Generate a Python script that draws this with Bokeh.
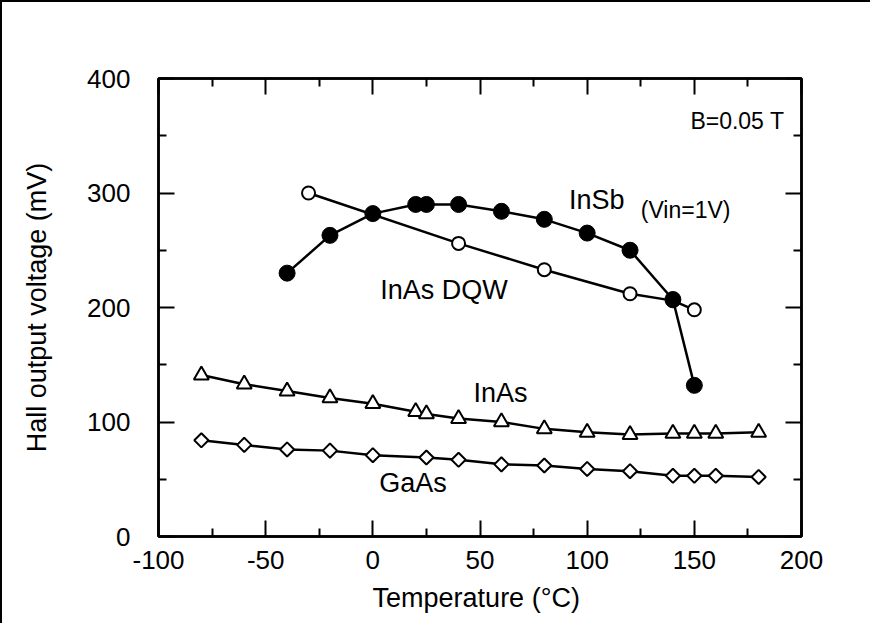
from bokeh.plotting import figure
from bokeh.models import LinearAxis, FixedTicker, Range1d
from bokeh.core.properties import value
from bokeh.embed import file_html
from bokeh.resources import INLINE
import numpy as np

# ---- data ----
insb_t = [-40, -20, 0, 20, 25, 40, 60, 80, 100, 120, 140, 150]
insb_v = [230, 263, 282, 290, 290, 290, 284, 277, 265, 250, 207, 132]

dqw_t = [-30, 40, 80, 120, 140, 150]
dqw_v = [300, 256, 233, 212, 206, 198]

inas_t = [-80, -60, -40, -20, 0, 20, 25, 40, 60, 80, 100, 120, 140, 150, 160, 180]
inas_v = [141, 133, 127, 121, 116, 109, 107, 103, 100, 94, 91, 89, 90, 90, 90, 91]

gaas_t = [-80, -60, -40, -20, 0, 25, 40, 60, 80, 100, 120, 140, 150, 160, 180]
gaas_v = [84, 80, 76, 75, 71, 69, 67, 63, 62, 59, 57, 53, 53, 53, 52]

x_ticks = [-100, -50, 0, 50, 100, 150, 200]
x_tick_labels = ["-100", "-50", "0", "50", "100", "150", "200"]
x_minor = [-75, -25, 25, 75, 125, 175]
y_ticks = [0, 100, 200, 300, 400]
y_tick_labels = ["0", "100", "200", "300", "400"]
y_minor = [50, 150, 250, 350]

FONT = "Liberation Sans"

p = figure(width=870, height=623, output_backend="svg", toolbar_location=None,
           x_range=Range1d(-100, 200), y_range=Range1d(0, 400),
           min_border_left=156, min_border_right=71, min_border_top=76, min_border_bottom=89,
           x_axis_label="Temperature  (\u00b0C)", y_axis_label="Hall output voltage (mV)")
p.styles = {"border-top": "2px solid black", "border-left": "2px solid black"}
p.xgrid.visible = False
p.ygrid.visible = False
p.outline_line_color = "black"
p.outline_line_width = 2.5
p.background_fill_color = "white"
p.border_fill_color = "white"

def style_axis(ax, ticks, minor, labels, show_labels=True):
    ax.ticker = FixedTicker(ticks=ticks, minor_ticks=minor)
    ax.axis_line_color = "black"
    ax.axis_line_width = 2.5
    ax.major_tick_in = 16
    ax.major_tick_out = 0
    ax.minor_tick_in = 8
    ax.minor_tick_out = 0
    ax.major_tick_line_width = 2
    ax.minor_tick_line_width = 2
    ax.major_tick_line_color = "black"
    ax.minor_tick_line_color = "black"
    ax.major_label_overrides = {t: l for t, l in zip(ticks, labels)}
    ax.major_label_text_font = FONT
    ax.major_label_text_font_size = "26px"
    ax.major_label_text_color = "black" if show_labels else None

xa = p.xaxis[0]
style_axis(xa, x_ticks, x_minor, x_tick_labels)
xa.major_label_standoff = 14
xa.axis_label_text_font = FONT
xa.axis_label_text_font_size = "27px"
xa.axis_label_text_font_style = "normal"
xa.axis_label_text_color = "black"
xa.axis_label_standoff = 11

ya = p.yaxis[0]
style_axis(ya, y_ticks, y_minor, y_tick_labels)
ya.major_label_standoff = 28
ya.axis_label_text_font = FONT
ya.axis_label_text_font_size = "27px"
ya.axis_label_text_font_style = "normal"
ya.axis_label_text_color = "black"
ya.axis_label_standoff = 32

ra = LinearAxis()
style_axis(ra, y_ticks, y_minor, y_tick_labels, show_labels=False)
p.add_layout(ra, "right")
ta = LinearAxis()
style_axis(ta, x_ticks, x_minor, x_tick_labels, show_labels=False)
p.add_layout(ta, "above")

# ---- series ----
p.line(dqw_t, dqw_v, line_color="black", line_width=2.5)
p.scatter(dqw_t, dqw_v, marker="circle", size=13, fill_color="white", line_color="black", line_width=2)

p.line(insb_t, insb_v, line_color="black", line_width=2.5)
p.scatter(insb_t, insb_v, marker="circle", size=16, fill_color="black", line_color="black")

p.line(inas_t, inas_v, line_color="black", line_width=2.5)
p.scatter(inas_t, inas_v, marker="triangle", size=15, fill_color="white", line_color="black", line_width=2)

p.line(gaas_t, gaas_v, line_color="black", line_width=2.5)
p.scatter(gaas_t, gaas_v, marker="square", angle=np.pi / 4, size=10, fill_color="white",
          line_color="black", line_width=2)

# ---- labels ----
def label(x, y, s, size, align="left"):
    p.text([x], [y], text=[s], text_font=value(FONT), text_font_size=size,
           text_baseline="middle", text_align=align, text_color="black")

label(192, 363, "B=0.05 T", "23px", align="right")
label(91.5, 294, "InSb", "27px")
label(125, 285, "(Vin=1V)", "23px")
label(3.5, 215, "InAs DQW", "27px")
label(47, 125, "InAs", "27px")
label(3, 47, "GaAs", "27px")

open("out.html", "w").write(file_html(p, INLINE))
